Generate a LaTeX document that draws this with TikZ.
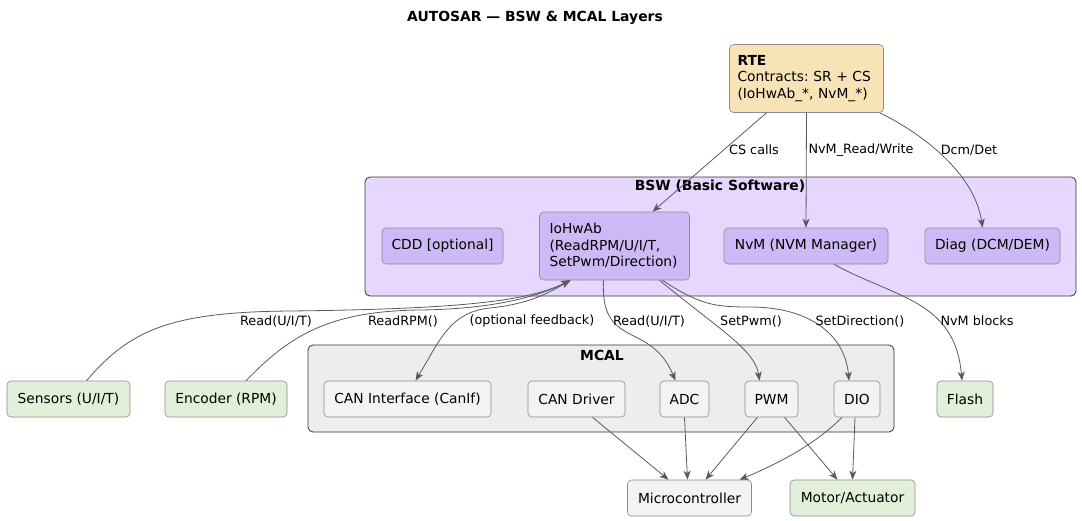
\documentclass[tikz,border=0pt]{standalone}
\usepackage{fontspec}
\setmainfont{DejaVu Sans}
\usepackage{xcolor}
\usepackage{tikz}
\usetikzlibrary{arrows.meta}
\frenchspacing

\definecolor{rtefill}{HTML}{F7E3B6}
\definecolor{bswbg}{HTML}{E5D7FE}
\definecolor{bswbox}{HTML}{CDB9F5}
\definecolor{mcalbg}{HTML}{EDEDED}
\definecolor{mcalbox}{HTML}{F3F3F3}
\definecolor{hwbox}{HTML}{E2EFDA}
\definecolor{edgegray}{HTML}{5A5A5A}

\tikzset{
    box/.style={rounded corners=4pt, draw=black!45, line width=0.6pt, minimum height=36pt, inner sep=0pt, font=\fontsize{13.8}{16.5}\selectfont},
    layer/.style={rounded corners=5pt, draw=black!80, line width=0.8pt, inner sep=0pt},
    layertitle/.style={inner sep=0pt, font=\fontsize{13.9}{16}\selectfont\bfseries},
    lbl/.style={inner sep=0pt, font=\fontsize{12.8}{15}\selectfont},
    wire/.style={draw=edgegray, line width=0.8pt},
}

\begin{document}
\begin{tikzpicture}[x=1pt, y=1pt, >={Stealth[length=9pt, width=7pt, inset=2.5pt]}]
    \useasboundingbox (0, 0) rectangle (1082, -520);

    \node[layertitle] at (535, -18) (title) {AUTOSAR — BSW \& MCAL Layers};

    % layers
    \node[layer, fill=bswbg, minimum width=711pt, minimum height=119pt] at (720.5, -236.5) (bsw) {};
    \node[layertitle] at (720, -186) (bswtitle) {BSW (Basic Software)};
    \node[layer, fill=mcalbg, minimum width=586pt, minimum height=87pt] at (601, -388.5) (mcal) {};
    \node[layertitle] at (602, -355) (mcaltitle) {MCAL};

    \node[box, fill=rtefill, minimum width=154pt, minimum height=68pt, text width=138pt, align=left] at (806.5, -78.5) (rte) {\textbf{RTE}\\Contracts: SR + CS\\(IoHwAb\_*, NvM\_*)};

    \node[box, fill=bswbox, minimum width=121pt] at (442.5, -246) (cdd) {CDD [optional]};
    \node[box, fill=bswbox, minimum width=150pt, minimum height=68pt, text width=130pt, align=left] at (614.5, -246) (io) {IoHwAb\\(ReadRPM/U/I/T,\\SetPwm/Direction)};
    \node[box, fill=bswbox, minimum width=164pt] at (806, -246) (nvm) {NvM (NVM Manager)};
    \node[box, fill=bswbox, minimum width=135pt] at (992.5, -246) (diag) {Diag (DCM/DEM)};

    \node[box, fill=mcalbox, minimum width=167pt] at (407.5, -399) (canif) {CAN Interface (CanIf)};
    \node[box, fill=mcalbox, minimum width=97pt] at (576.5, -399) (candrv) {CAN Driver};
    \node[box, fill=mcalbox, minimum width=49pt] at (684.5, -399) (adc) {ADC};
    \node[box, fill=mcalbox, minimum width=53pt] at (771.5, -399) (pwm) {PWM};
    \node[box, fill=mcalbox, minimum width=46pt] at (857, -399) (dio) {DIO};

    \node[box, fill=hwbox, minimum width=123pt] at (68.5, -399) (sensors) {Sensors (U/I/T)};
    \node[box, fill=hwbox, minimum width=122pt] at (226, -399) (encoder) {Encoder (RPM)};
    \node[box, fill=hwbox, minimum width=56pt] at (965, -399) (flash) {Flash};
    \node[box, fill=mcalbox, minimum width=124pt] at (689.5, -498) (micro) {Microcontroller};
    \node[box, fill=hwbox, minimum width=125pt] at (852.5, -498) (motor) {Motor/Actuator};

    % RTE calls
    \draw[wire, ->] ([xshift=-40pt]rte.south) -- ([xshift=38pt]io.north);
    \draw[wire, ->] (rte.south) -- (nvm.north);
    \draw[wire, ->] ([xshift=-4pt]rte.south east) .. controls (925, -135) and (975, -175) .. ([xshift=-10pt]diag.north);
    \node[lbl] at (754, -150) (lcs) {CS calls};
    \node[lbl] at (861, -150) (lnvm) {NvM\_Read/Write};
    \node[lbl] at (969, -150) (ldcm) {Dcm/Det};

    \draw[wire, ->] ([xshift=28pt]nvm.south) .. controls (895, -298) and (955, -300) .. ([xshift=-3pt]flash.north);
    \node[lbl] at (977, -321) (lblocks) {NvM blocks};

    % IoHwAb to MCAL
    \draw[wire, ->] ([xshift=-11pt]io.south) .. controls (600, -350) and (650, -320) .. ([xshift=-9pt]adc.north);
    \draw[wire, ->] ([xshift=45pt]io.south) .. controls (720, -330) and (755, -350) .. ([xshift=-12pt]pwm.north);
    \draw[wire, ->] ([xshift=48pt]io.south) .. controls (700, -305) and (715, -307) .. (750, -307) .. controls (810, -307) and (845, -335) .. ([xshift=-8pt]dio.north);
    \node[lbl] at (649, -321) (ladc) {Read(U/I/T)};
    \node[lbl] at (751, -321) (lpwm) {SetPwm()};
    \node[lbl] at (860, -321) (ldio) {SetDirection()};

    % inputs to IoHwAb
    \draw[wire, ->] ([xshift=18pt]sensors.north) .. controls (130, -330) and (170, -312) .. (290, -311) .. controls (470, -309) and (530, -300) .. ([xshift=-44pt]io.south);
    \draw[wire, ->] ([xshift=20pt]encoder.north) .. controls (290, -335) and (330, -311) .. (420, -310) .. controls (490, -309) and (535, -298) .. ([xshift=-44pt]io.south);
    \draw[wire, <->] ([xshift=8pt]canif.north) .. controls (440, -340) and (450, -312) .. (490, -308) .. controls (530, -304) and (550, -292) .. ([xshift=-44pt]io.south);
    \node[lbl] at (276, -321) (lsens) {Read(U/I/T)};
    \node[lbl] at (403, -321) (lrpm) {ReadRPM()};
    \node[lbl] at (532, -321) (lfb) {(optional feedback)};

    % MCAL to hardware
    \draw[wire, ->] ([xshift=16pt]candrv.south) -- ([xshift=-21pt]micro.north);
    \draw[wire, ->] (adc.south) -- ([xshift=-2pt]micro.north);
    \draw[wire, ->] ([xshift=-14pt]pwm.south) -- ([xshift=16pt]micro.north);
    \draw[wire, ->] ([xshift=13pt]pwm.south) -- ([xshift=-15pt]motor.north);
    \draw[wire, ->] ([xshift=-15pt]dio.south) .. controls (815, -445) and (775, -465) .. ([xshift=50pt]micro.north);
    \draw[wire, ->] ([xshift=-2pt]dio.south) -- (motor.north);
\end{tikzpicture}
\end{document}
